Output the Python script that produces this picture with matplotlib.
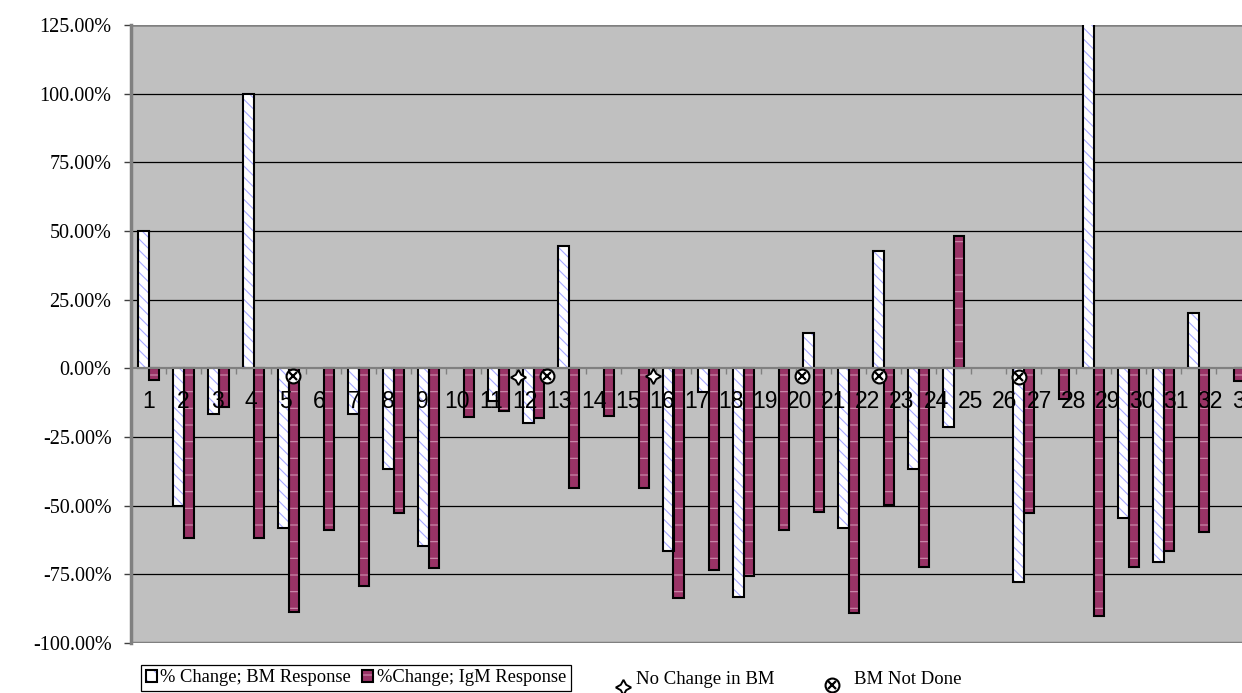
import matplotlib.pyplot as plt
import numpy as np
from matplotlib.patches import Patch
from matplotlib.lines import Line2D
from matplotlib.legend_handler import HandlerTuple
from matplotlib.ticker import FuncFormatter, FixedLocator

nan = np.nan

# % change per patient (1..32 visible), nan = no bar
bm_change = [50, -50, -16.8, 100, -58, nan, -16.5, -36.8, -64.7, nan,
             -12, -20, 44.5, nan, nan, -66.6, -8.5, -83.2, nan, 12.7,
             -58.3, 42.6, -36.8, -21.5, nan, -77.8, nan, 140, -54.6, -70.6,
             20, nan]
igm_change = [-4.3, -61.8, -14, -61.8, -88.8, -58.8, -79.4, -52.8, -72.8, -17.8,
              -15.5, -18.2, -43.4, -17.4, -43.7, -83.7, -73.5, -75.7, -59, -52.3,
              -89.2, -49.8, -72.5, 48.2, nan, -52.5, -11.3, -90.3, -72.3, -66.6,
              -59.7, -4.6]
x_labels = [str(i) for i in range(1, 34)]

# hand-placed markers (category units, %)
no_change_x = [11.55, 15.41]
no_change_y = [-3.3, -2.8]
not_done_x = [5.13, 12.38, 19.66, 21.87, 25.87]
not_done_y = [-2.7, -2.7, -2.7, -2.7, -3.2]

bg = '#c0c0c0'
maroon = '#993366'
hatch_blue = '#a6a8ff'
dash_pink = '#cf8fb0'
frame_gray = '#808080'

plt.rcParams['hatch.linewidth'] = 0.8

fig = plt.figure(figsize=(12.42, 6.93), dpi=100)
ax = fig.add_axes([131/1242, 50/693, 1155/1242, 618/693])
ax.set_facecolor(bg)

x = np.arange(1, len(bm_change) + 1)
w = 0.3

# BM bars: blue hatch layer + black outline
ax.bar(x - w/2, bm_change, w, color='white', edgecolor=hatch_blue,
       hatch='\\\\\\', linewidth=0, zorder=2)
ax.bar(x - w/2, bm_change, w, fill=False, edgecolor='black', linewidth=1.5, zorder=2.1)
# IgM bars: maroon with light dashes
ax.bar(x + w/2, igm_change, w, color=maroon, edgecolor=dash_pink,
       hatch='-', linewidth=0, zorder=2)
ax.bar(x + w/2, igm_change, w, fill=False, edgecolor='black', linewidth=1.5, zorder=2.1)

ax.set_xlim(0.5, 33.5)
ax.set_ylim(-100, 125)

# gridlines
yt = np.arange(-100, 126, 25)
ax.set_yticks(yt)
for v in yt:
    if v in (0, -100, 125):
        continue
    ax.axhline(v, color='black', lw=0.9, zorder=0.5)
ax.axhline(125, color=frame_gray, lw=1.8, zorder=0.6)
ax.axhline(0, color=frame_gray, lw=1.5, zorder=1.9)

ax.yaxis.set_major_formatter(FuncFormatter(lambda v, p: '%.2f%%' % v))
ax.tick_params(axis='y', direction='out', length=5, width=1, color='#404040',
               pad=9, labelsize=14.5)
for t in ax.get_yticklabels():
    t.set_fontfamily('Liberation Serif')

# x axis: tick marks between categories on the zero line
ax.spines['bottom'].set_position(('data', 0))
ax.spines['bottom'].set_color(frame_gray)
ax.spines['bottom'].set_linewidth(1.5)
ax.xaxis.set_major_locator(FixedLocator(np.arange(0.5, 34, 1)))
ax.tick_params(axis='x', direction='out', length=4, width=1, color=frame_gray,
               labelbottom=False)
ax.axhline(-100, color=frame_gray, lw=2.5, zorder=3)
ax.spines['left'].set_color(frame_gray)
ax.spines['left'].set_linewidth(2.5)
ax.spines['top'].set_visible(False)
ax.spines['right'].set_color(frame_gray)
ax.spines['right'].set_linewidth(2.5)

# category labels (drawn over the bars)
step = 34.25 / 35
for i, lab in enumerate(x_labels):
    ax.annotate(lab, xy=(1 + i*step, 0), xytext=(0, -22), textcoords='offset pixels',
                ha='center', va='top', fontsize=16.5, family='Liberation Sans',
                zorder=4, annotation_clip=False)

# markers
ax.plot(no_change_x, no_change_y, ls='none', marker=(4, 1, 0), ms=11,
        mfc='white', mec='black', mew=1.4, zorder=5)
ax.plot(not_done_x, not_done_y, ls='none', marker='o', ms=10,
        mfc='white', mec='black', mew=1.5, zorder=5)
ax.plot(not_done_x, not_done_y, ls='none', marker='x', ms=6,
        mec='black', mew=1.6, zorder=6)

# series legend
bm_h = (Patch(facecolor='white', edgecolor=hatch_blue, hatch='\\\\', lw=0),
        Patch(fill=False, edgecolor='black', lw=1.5))
igm_h = (Patch(facecolor=maroon, edgecolor=dash_pink, hatch='-', lw=0),
         Patch(fill=False, edgecolor='black', lw=1.5))
leg = fig.legend([bm_h, igm_h], ['% Change; BM Response', '%Change; IgM Response'],
                 handler_map={tuple: HandlerTuple(ndivide=1, pad=0)},
                 loc='lower left', bbox_to_anchor=(141/1242, 2/693), ncol=2,
                 prop={'family': 'Liberation Serif', 'size': 13.3},
                 frameon=True, fancybox=False, edgecolor='black', framealpha=1,
                 handlelength=0.6, handleheight=0.6, handletextpad=0.2,
                 columnspacing=0.6, borderpad=0.25, borderaxespad=0)
leg.get_frame().set_linewidth(0.9)

# marker key (free-standing, as in the sheet)
key_font = {'family': 'Liberation Serif', 'size': 13.5}
fig.add_artist(Line2D([623/1242], [1 - 687/693], transform=fig.transFigure, ls='none',
                      marker=(4, 1, 0), ms=11, mfc='white', mec='black', mew=1.4))
fig.text(636/1242, 1 - 680/693, 'No Change in BM', va='center', ha='left', **key_font)
fig.add_artist(Line2D([832/1242], [1 - 685/693], transform=fig.transFigure, ls='none',
                      marker='o', ms=10, mfc='white', mec='black', mew=1.5))
fig.add_artist(Line2D([832/1242], [1 - 685/693], transform=fig.transFigure, ls='none',
                      marker='x', ms=6, mec='black', mew=1.6))
fig.text(854/1242, 1 - 680/693, 'BM Not Done', va='center', ha='left', **key_font)

fig.savefig('out.png', dpi=100, facecolor='white')
